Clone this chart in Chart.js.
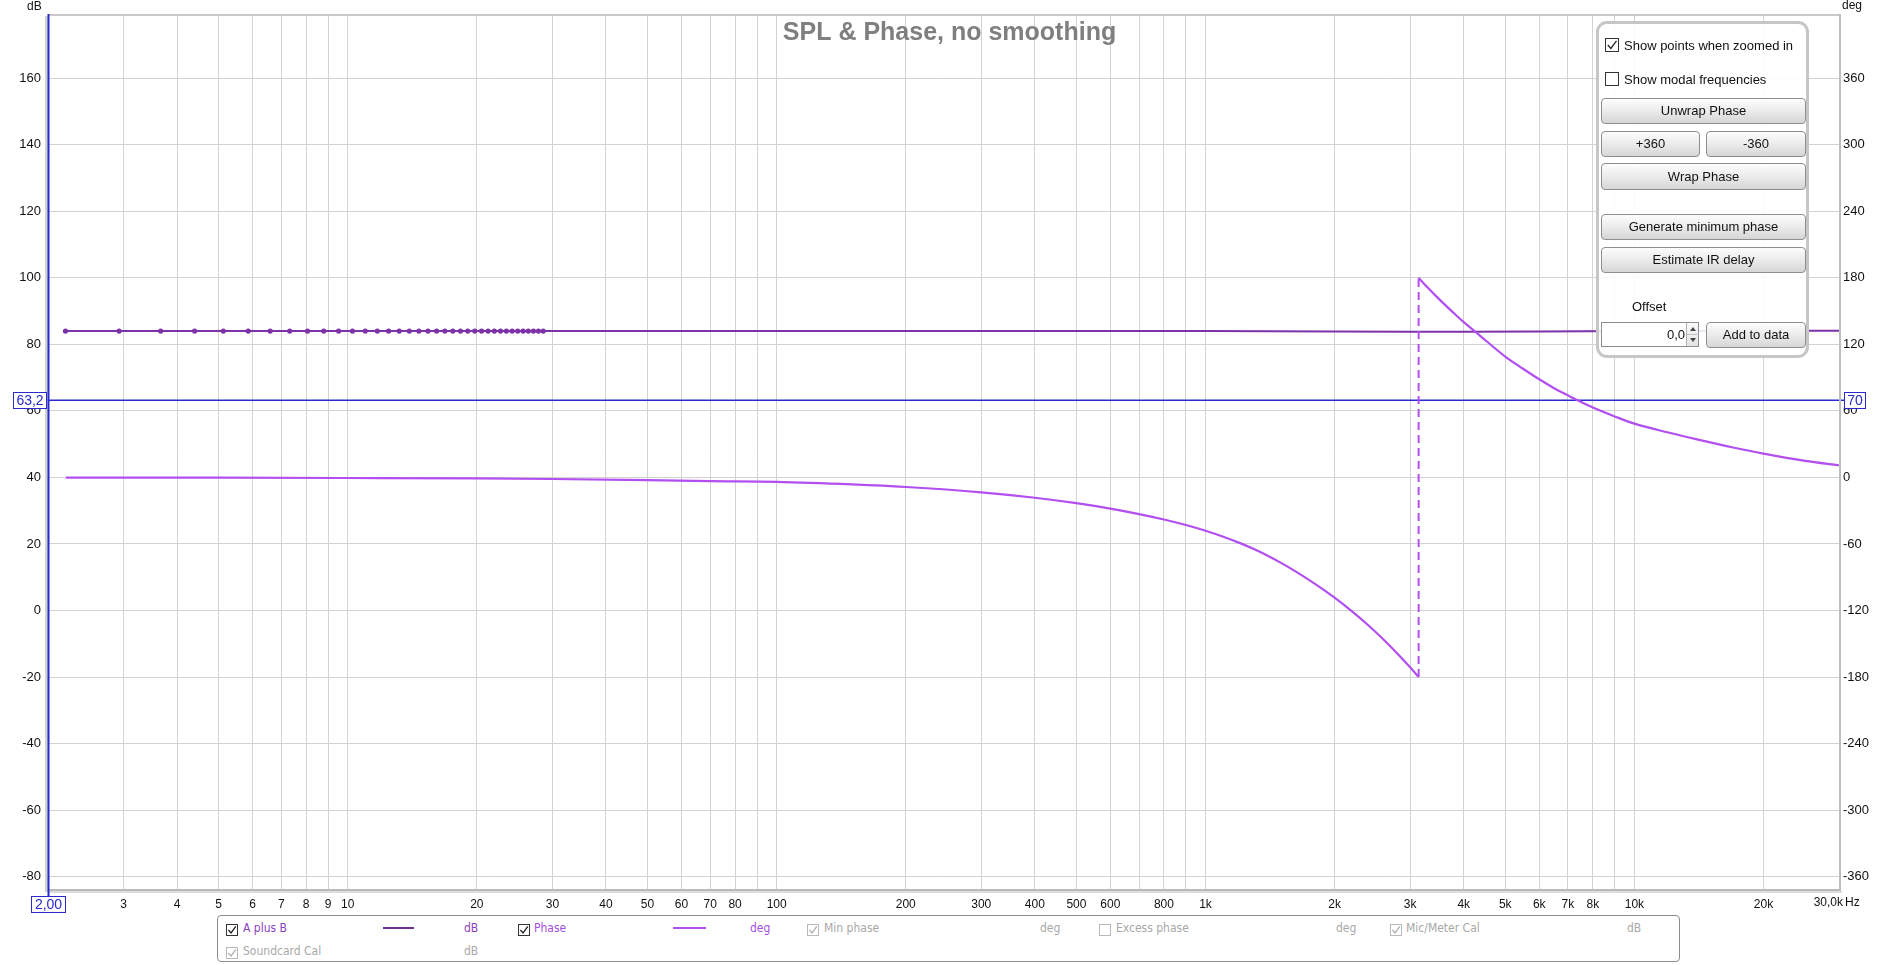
<!DOCTYPE html>
<html>
<head>
<meta charset="utf-8">
<script src="https://cdn.jsdelivr.net/npm/chart.js@4.4.1/dist/chart.umd.min.js"></script>
<style>
  html, body { margin:0; padding:0; background:#fff; }
  #wrap { position:relative; width:1899px; height:965px; overflow:hidden; font-family:"Liberation Sans", Arial, sans-serif; }
  canvas { position:absolute; left:0; top:0; }
  .abs { position:absolute; white-space:nowrap; }
  #panel { position:absolute; left:1596px; top:21px; width:207px; height:331px; border:3px solid #c6c6c6; border-radius:11px; background:rgba(255,255,255,0.88); }
  .btn { position:absolute; box-sizing:border-box; border:1px solid #8e8e8e; border-radius:4px; background:linear-gradient(#fdfdfd, #e9e9e9 55%, #d6d6d6); font-size:13px; color:#111; text-align:center; line-height:24px; }
  .ptext { position:absolute; font-size:13px; color:#111; white-space:nowrap; line-height:16px; }
  #legend { position:absolute; left:217px; top:915px; width:1463px; height:47px; box-sizing:border-box; border:1px solid #8c8c8c; border-radius:4px; background:#fff; }
  .lg { position:absolute; font-family:"Liberation Sans Narrow","Arial Narrow","DejaVu Sans Condensed",sans-serif; font-size:12px; line-height:14px; white-space:nowrap; }
</style>
</head>
<body>
<div id="wrap">
  <canvas id="c" width="1899" height="965"></canvas>
  <div id="panel"></div>
  <div id="legend"></div>
</div>
<script>
// ---------------- data ----------------
const splFreq = [2.197, 2.930, 3.662, 4.395, 5.127, 5.859, 6.592, 7.324, 8.057, 8.789, 9.521, 10.254, 10.986, 11.719, 12.451, 13.184, 13.916, 14.648, 15.381, 16.113, 16.846, 17.578, 18.311, 19.043, 19.775, 20.508, 21.240, 21.973, 22.705, 23.438, 24.170, 24.902, 25.635, 26.367, 27.100, 27.832, 28.564,
  35, 50, 100, 200, 500, 1000, 2000, 3000, 4000, 6000, 10000, 20000, 30000];
const splDb = [84.0, 84.0, 84.0, 84.0, 84.0, 84.0, 84.0, 84.0, 84.0, 84.0, 84.0, 84.0, 84.0, 84.0, 84.0, 84.0, 84.0, 84.0, 84.0, 84.0, 84.0, 84.0, 84.0, 84.0, 84.0, 84.0, 84.0, 84.0, 84.0, 84.0, 84.0, 84.0, 84.0, 84.0, 84.0, 84.0, 84.0,
  84.0, 84.0, 84.0, 84.0, 84.0, 84.0, 83.9, 83.8, 83.8, 83.9, 84.0, 84.1, 84.1];
const phaseFreqBelowWrap = [2.2, 5, 10, 20, 30, 50, 70, 100, 150, 200, 300, 400, 500, 600, 700, 800, 900, 1000, 1100, 1200, 1300, 1400, 1500, 1600, 1800, 2000, 2200, 2400, 2600, 2800, 3000, 3140];
const phaseDegBelowWrap  = [-0.1, -0.2, -0.5, -0.9, -1.4, -2.4, -3.3, -4.0, -6.3, -8.6, -13.4, -18.3, -23.2, -28.1, -33.0, -37.9, -42.9, -48.0, -53.4, -59.0, -64.8, -70.8, -77.0, -83.3, -95.9, -108.4, -121.0, -133.5, -146.1, -158.7, -171.2, -180];
const phaseFreqAboveWrap = [3140, 3300, 3500, 3750, 4000, 4270, 4500, 5000, 5500, 6000, 6500, 7000, 7330, 8000, 9000, 10000, 12000, 14000, 17000, 20000, 25000, 30000];
const phaseDegAboveWrap  = [180, 171, 161, 150, 140, 131, 123.5, 109, 98, 88.5, 80.5, 74, 70, 63, 55, 48.5, 40.5, 34.3, 27, 21.5, 15, 11];
const wrapFreq = [3140, 3140];
const wrapDeg = [-180, 180];
const cursorFreq = 2.0;
const cursorDb = 63.2;
const cursorDbLabel = '63,2';
const cursorDegLabel = '70';
const cursorFreqLabel = '2,00';
const dbRange = [-83.7, 178.7];
const degRange = [-371.1, 416.1];
const dbTicks = [-80, -60, -40, -20, 0, 20, 40, 60, 80, 100, 120, 140, 160];
const degTicks = [-360, -300, -240, -180, -120, -60, 0, 60, 120, 180, 240, 300, 360];
const xRange = [2, 30000];
const xTickValues = [2, 3, 4, 5, 6, 7, 8, 9, 10, 20, 30, 40, 50, 60, 70, 80, 90, 100, 200, 300, 400, 500, 600, 700, 800, 900, 1000, 2000, 3000, 4000, 5000, 6000, 7000, 8000, 9000, 10000, 20000, 30000];
const xTickLabels = ['', '3', '4', '5', '6', '7', '8', '9', '10', '20', '30', '40', '50', '60', '70', '80', '', '100', '200', '300', '400', '500', '600', '', '800', '', '1k', '2k', '3k', '4k', '5k', '6k', '7k', '8k', '', '10k', '20k', ''];
const lastXLabel = '30,0k';
const titleText = 'SPL & Phase, no smoothing';

// ---------------- colours ----------------
const SPL_COLOR = '#7d33a8';
const PHASE_COLOR = '#b34ef0';
const CURSOR_COLOR = '#2a2ad0';
const GRID_COLOR = '#d2d2d2';

const zip = (xs, ys) => xs.map((x, i) => ({x: x, y: ys[i]}));

const overlay = {
  id: 'overlay',
  beforeDatasetsDraw(chart) {
    const {ctx, chartArea: a, scales} = chart;
    const yc = scales.y.getPixelForValue(cursorDb);
    ctx.save();
    ctx.strokeStyle = CURSOR_COLOR;
    ctx.lineWidth = 1.3;
    ctx.beginPath(); ctx.moveTo(a.left, yc); ctx.lineTo(a.right + 5, yc); ctx.stroke();
    ctx.restore();
  },
  afterDraw(chart) {
    const {ctx, chartArea: a, scales} = chart;
    ctx.save();
    // frame
    ctx.strokeStyle = '#c9c9c9'; ctx.lineWidth = 2;
    ctx.beginPath(); ctx.moveTo(a.left, a.top - 1); ctx.lineTo(a.right + 1, a.top - 1); ctx.stroke();
    ctx.fillStyle = '#b9b9b9'; ctx.fillRect(a.left, a.bottom, a.right - a.left + 2, 2);
    ctx.fillStyle = '#dcdcdc'; ctx.fillRect(a.left, a.bottom + 2, a.right - a.left + 3, 2);
    ctx.fillStyle = '#bdbdbd'; ctx.fillRect(a.right, a.top - 2, 2, a.bottom - a.top + 3);
    ctx.fillStyle = '#d3d3d3'; ctx.fillRect(a.left - 3, a.top, 3, a.bottom - a.top + 3);
    // vertical cursor
    const xc = scales.x.getPixelForValue(cursorFreq);
    ctx.strokeStyle = CURSOR_COLOR; ctx.lineWidth = 2;
    ctx.beginPath(); ctx.moveTo(xc + 0.5, a.top - 2); ctx.lineTo(xc + 0.5, a.bottom + 8); ctx.stroke();
    // title
    ctx.font = 'bold 25px "Liberation Sans", Arial, sans-serif';
    ctx.fillStyle = '#7f7f7f'; ctx.textAlign = 'center'; ctx.textBaseline = 'alphabetic';
    ctx.fillText(titleText, (a.left + a.right) / 2 + 6, 40);
    // unit labels
    ctx.font = '12px "Liberation Sans", Arial, sans-serif';
    ctx.fillStyle = '#111'; ctx.textBaseline = 'middle'; ctx.textAlign = 'left';
    ctx.fillText('dB', 27, 7);
    ctx.fillText('deg', 1842, 6);
    ctx.textAlign = 'right';
    ctx.fillText(lastXLabel, 1843, 903);
    ctx.textAlign = 'left';
    ctx.fillText('Hz', 1845, 903);
    // cursor boxes
    const yc = scales.y.getPixelForValue(cursorDb);
    const box = (txt, x0, y0, w, h) => {
      ctx.fillStyle = '#fff'; ctx.fillRect(x0, y0, w, h);
      ctx.strokeStyle = CURSOR_COLOR; ctx.lineWidth = 1;
      ctx.strokeRect(x0 + 0.5, y0 + 0.5, w - 1, h - 1);
      ctx.fillStyle = CURSOR_COLOR; ctx.textAlign = 'center'; ctx.textBaseline = 'middle';
      ctx.font = '14px "Liberation Sans", Arial, sans-serif';
      ctx.fillText(txt, x0 + w / 2, y0 + h / 2 + 1);
    };
    box(cursorDbLabel, 13, Math.round(yc) - 8, 34, 17);
    box(cursorDegLabel, 1844, Math.round(yc) - 8, 22, 17);
    box(cursorFreqLabel, Math.round(xc) - 17, 896, 35, 17);
    ctx.restore();
  }
};

const tickFont = {family: '"Liberation Sans", Arial, sans-serif', size: 13};

new Chart(document.getElementById('c'), {
  type: 'line',
  data: {
    datasets: [
      { label: 'Phase', data: zip(phaseFreqBelowWrap, phaseDegBelowWrap), yAxisID: 'y2', borderColor: PHASE_COLOR, borderWidth: 2.2, pointRadius: 0, cubicInterpolationMode: 'monotone', fill: false },
      { label: 'Phase', data: zip(phaseFreqAboveWrap, phaseDegAboveWrap), yAxisID: 'y2', borderColor: PHASE_COLOR, borderWidth: 2.2, pointRadius: 0, cubicInterpolationMode: 'monotone', fill: false },
      { label: 'Phase wrap', data: zip(wrapFreq, wrapDeg), yAxisID: 'y2', borderColor: PHASE_COLOR, borderWidth: 2, borderDash: [8, 5], pointRadius: 0, fill: false },
      { label: 'A plus B', data: zip(splFreq, splDb), yAxisID: 'y', borderColor: SPL_COLOR, backgroundColor: SPL_COLOR, borderWidth: 2, pointRadius: c => (c.raw && c.raw.x < 29 ? 2.6 : 0), pointBorderWidth: 0, pointBackgroundColor: SPL_COLOR, fill: false }
    ]
  },
  options: {
    responsive: false,
    devicePixelRatio: 1,
    animation: false,
    events: [],
    layout: { padding: {top: 16, left: 0, right: 0, bottom: 0} },
    plugins: { legend: {display: false}, tooltip: {enabled: false}, title: {display: false} },
    scales: {
      x: {
        type: 'logarithmic', position: 'bottom', min: xRange[0], max: xRange[1],
        afterFit: s => { s.height = 76; },
        afterBuildTicks: s => { s.ticks = xTickValues.map(v => ({value: v})); },
        grid: { color: GRID_COLOR, lineWidth: 1, drawTicks: false },
        border: { display: false },
        ticks: { autoSkip: false, maxRotation: 0, minRotation: 0, padding: 8, color: '#111', font: {family: '"Liberation Sans", Arial, sans-serif', size: 12},
          callback: v => { const i = xTickValues.indexOf(v); return i >= 0 ? xTickLabels[i] : ''; } }
      },
      y: {
        position: 'left', min: dbRange[0], max: dbRange[1],
        afterFit: s => { s.width = 48; },
        afterBuildTicks: s => { s.ticks = dbTicks.map(v => ({value: v})); },
        grid: { color: GRID_COLOR, lineWidth: 1, drawTicks: false },
        border: { display: false },
        ticks: { padding: 7, color: '#111', font: tickFont, callback: v => String(v) }
      },
      y2: {
        position: 'right', min: degRange[0], max: degRange[1],
        afterFit: s => { s.width = 60; },
        afterBuildTicks: s => { s.ticks = degTicks.map(v => ({value: v})); },
        grid: { display: false, drawTicks: false },
        border: { display: false },
        ticks: { padding: 4, color: '#111', font: tickFont, callback: v => String(v) }
      }
    }
  },
  plugins: [overlay]
});

// ---------------- control panel ----------------
const wrap = document.getElementById('wrap');
function checkbox(x, y, size, checked, grey) {
  const s = size;
  const stroke = grey ? '#b8b8b8' : '#333';
  const tick = grey ? '#b0b0b0' : '#222';
  const d = document.createElement('div');
  d.className = 'abs';
  d.style.left = x + 'px'; d.style.top = y + 'px';
  d.innerHTML = '<svg width="' + s + '" height="' + s + '"><rect x="0.5" y="0.5" width="' + (s - 1) + '" height="' + (s - 1) + '" fill="#fff" stroke="' + stroke + '"/>' +
    (checked ? '<polyline points="' + (s * 0.2) + ',' + (s * 0.5) + ' ' + (s * 0.42) + ',' + (s * 0.75) + ' ' + (s * 0.82) + ',' + (s * 0.2) + '" fill="none" stroke="' + tick + '" stroke-width="1.3"/>' : '') + '</svg>';
  wrap.appendChild(d);
}
function text(cls, str, x, y, color, extra) {
  const d = document.createElement('div');
  d.className = cls; d.textContent = str;
  d.style.left = x + 'px'; d.style.top = y + 'px';
  if (color) d.style.color = color;
  if (extra) Object.assign(d.style, extra);
  wrap.appendChild(d);
  return d;
}
function button(str, x, y, w, h) {
  const d = text('btn', str, x, y);
  d.style.width = w + 'px'; d.style.height = h + 'px'; d.style.lineHeight = (h - 2) + 'px';
}
checkbox(1605, 38, 14, true, false);
text('ptext', 'Show points when zoomed in', 1624, 38);
checkbox(1605, 72, 14, false, false);
text('ptext', 'Show modal frequencies', 1624, 72);
button('Unwrap Phase', 1601, 98, 205, 26);
button('+360', 1601, 131, 99, 26);
button('-360', 1706, 131, 100, 26);
button('Wrap Phase', 1601, 163, 205, 27);
button('Generate minimum phase', 1601, 214, 205, 26);
button('Estimate IR delay', 1601, 247, 205, 26);
text('ptext', 'Offset', 1632, 299);
// input box
const inp = document.createElement('div');
inp.className = 'abs';
Object.assign(inp.style, {left: '1601px', top: '322px', width: '98px', height: '25px', boxSizing: 'border-box', border: '1px solid #8e8e8e', background: '#fff'});
wrap.appendChild(inp);
text('ptext', '0,0', 1667, 327);
const spin = document.createElement('div');
spin.className = 'abs';
Object.assign(spin.style, {left: '1686px', top: '323px', width: '12px', height: '23px', boxSizing: 'border-box', borderLeft: '1px solid #b0b0b0', background: 'linear-gradient(#fafafa,#e4e4e4)'});
spin.innerHTML = '<svg width="12" height="23"><polygon points="3,8 9,8 6,4" fill="#444"/><line x1="0" y1="11.5" x2="12" y2="11.5" stroke="#c0c0c0"/><polygon points="3,15 9,15 6,19" fill="#444"/></svg>';
wrap.appendChild(spin);
button('Add to data', 1706, 322, 100, 26);

// ---------------- legend ----------------
const PURPLE_TXT = '#8a3fbf';
const PHASE_TXT = '#a44fe0';
const GREY_TXT = '#a8a8a8';
const r1 = 921, r2 = 944;
checkbox(226, r1 + 1, 12, true, false);
text('lg', 'A plus B', 243, r1, PURPLE_TXT);
const s1 = document.createElement('div'); s1.className = 'abs';
Object.assign(s1.style, {left: '383px', top: '927px', width: '31px', height: '2px', background: '#6e2f94'}); wrap.appendChild(s1);
text('lg', 'dB', 464, r1, PURPLE_TXT);
checkbox(518, r1 + 1, 12, true, false);
text('lg', 'Phase', 534, r1, PHASE_TXT);
const s2 = document.createElement('div'); s2.className = 'abs';
Object.assign(s2.style, {left: '673px', top: '927px', width: '33px', height: '2px', background: PHASE_COLOR}); wrap.appendChild(s2);
text('lg', 'deg', 750, r1, PHASE_TXT);
checkbox(807, r1 + 1, 12, true, true);
text('lg', 'Min phase', 824, r1, GREY_TXT);
text('lg', 'deg', 1040, r1, GREY_TXT);
checkbox(1099, r1 + 1, 12, false, true);
text('lg', 'Excess phase', 1116, r1, GREY_TXT);
text('lg', 'deg', 1336, r1, GREY_TXT);
checkbox(1390, r1 + 1, 12, true, true);
text('lg', 'Mic/Meter Cal', 1406, r1, GREY_TXT);
text('lg', 'dB', 1627, r1, GREY_TXT);
checkbox(226, r2 + 1, 12, true, true);
text('lg', 'Soundcard Cal', 243, r2, GREY_TXT);
text('lg', 'dB', 464, r2, GREY_TXT);
</script>
</body>
</html>
